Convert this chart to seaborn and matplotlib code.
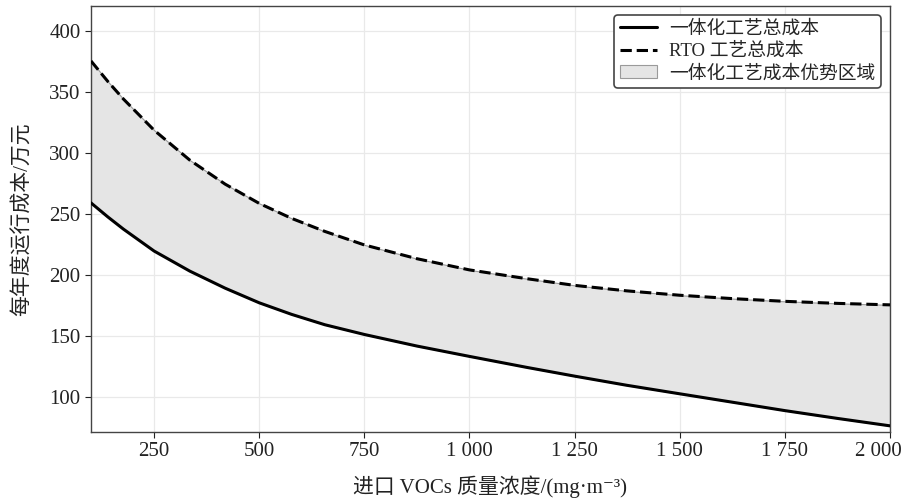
import pandas as pd
import seaborn as sns
from matplotlib import pyplot as plt
from matplotlib.ticker import FuncFormatter
from matplotlib.transforms import ScaledTranslation
from matplotlib.lines import Line2D
from matplotlib.patches import Patch

# concentration (mg/m3) and annual cost (10k CNY)
concentration = [100, 140, 177, 250, 335, 419, 500, 577, 656, 750, 875,
                 1000, 1136, 1250, 1374, 1500, 1627, 1750, 1877, 2000]
integrated_cost = [259.0, 247.5, 237.5, 219.5, 203.0, 189.0, 177.0, 167.5, 159.0, 151.0, 141.5,
                   133.0, 124.0, 116.8, 109.3, 102.3, 95.3, 88.5, 82.0, 76.0]
rto_cost = [375.5, 358.7, 344.3, 318.7, 294.1, 274.4, 258.6, 246.3, 235.6, 224.5, 213.2,
            204.0, 196.8, 191.3, 186.8, 183.2, 180.4, 178.2, 176.5, 175.3]

LABEL_INTEGRATED = "一体化工艺总成本"
LABEL_RTO = "RTO 工艺总成本"
LABEL_ADVANTAGE = "一体化工艺成本优势区域"

sns.set_theme(style="whitegrid")
plt.rcParams["font.family"] = ["Liberation Serif", "Noto Sans CJK SC", "DejaVu Sans"]
plt.rcParams["axes.unicode_minus"] = False

df = pd.DataFrame({
    "conc": concentration * 2,
    "cost": integrated_cost + rto_cost,
    "process": [LABEL_INTEGRATED] * len(concentration) + [LABEL_RTO] * len(concentration),
})

fig, ax = plt.subplots(figsize=(9.1, 5.04), dpi=100)
fig.subplots_adjust(left=0.1, right=0.978, top=0.989, bottom=0.143)

sns.lineplot(
    ax=ax,
    data=df,
    x="conc",
    y="cost",
    hue="process",
    style="process",
    palette={LABEL_INTEGRATED: "black", LABEL_RTO: "black"},
    dashes={LABEL_INTEGRATED: "", LABEL_RTO: (3.7, 1.6)},
    linewidth=2.2,
    legend=False,
    zorder=3,
)
ax.fill_between(
    concentration, integrated_cost, rto_cost,
    facecolor="#e5e5e5", edgecolor="#9a9a9a", linewidth=0.8, zorder=2,
)

ax.set_xlim(100, 2000)
ax.set_ylim(71, 421)
ax.set_xticks([250, 500, 750, 1000, 1250, 1500, 1750, 2000])
ax.set_yticks([100, 150, 200, 250, 300, 350, 400])
ax.xaxis.set_major_formatter(FuncFormatter(
    lambda v, _: f"{int(v):,}".replace(",", " ")))

ax.grid(True, color="#e9e9e9", linewidth=0.9, linestyle="-")
for s in ax.spines.values():
    s.set_color("#444444")
    s.set_linewidth(1.0)
ax.tick_params(axis="both", labelsize=15, colors="#222222", length=4,
               width=0.8, direction="out", bottom=True, left=True)
for t in ax.get_xticklabels() + ax.get_yticklabels():
    t.set_color("#222222")

# last x label sits a little left of its tick, as in the original
fig.canvas.draw()
last = ax.get_xticklabels()[-1]
last.set_transform(last.get_transform() + ScaledTranslation(-12 / 100, 0, fig.dpi_scale_trans))

ax.set_xlabel("进口 VOCs 质量浓度/(mg·m⁻³)", fontsize=15, color="#222222", labelpad=10)
ax.set_ylabel("每年度运行成本/万元", fontsize=15, color="#222222", labelpad=12)

handles = [
    Line2D([], [], color="black", linewidth=2.2),
    Line2D([], [], color="black", linewidth=2.2, linestyle=(0, (3.7, 1.6))),
    Patch(facecolor="#e5e5e5", edgecolor="#9a9a9a", linewidth=0.8),
]
leg = ax.legend(
    handles, [LABEL_INTEGRATED, LABEL_RTO, LABEL_ADVANTAGE],
    loc="upper right", fontsize=13.5, frameon=True, fancybox=True,
    borderaxespad=0.5, handlelength=2.0, labelspacing=0.25,
    borderpad=0.3, handletextpad=0.6,
)
leg.get_frame().set_edgecolor("#444444")
leg.get_frame().set_linewidth(1.2)
leg.get_frame().set_alpha(1.0)

fig.savefig("out.png", dpi=100)
